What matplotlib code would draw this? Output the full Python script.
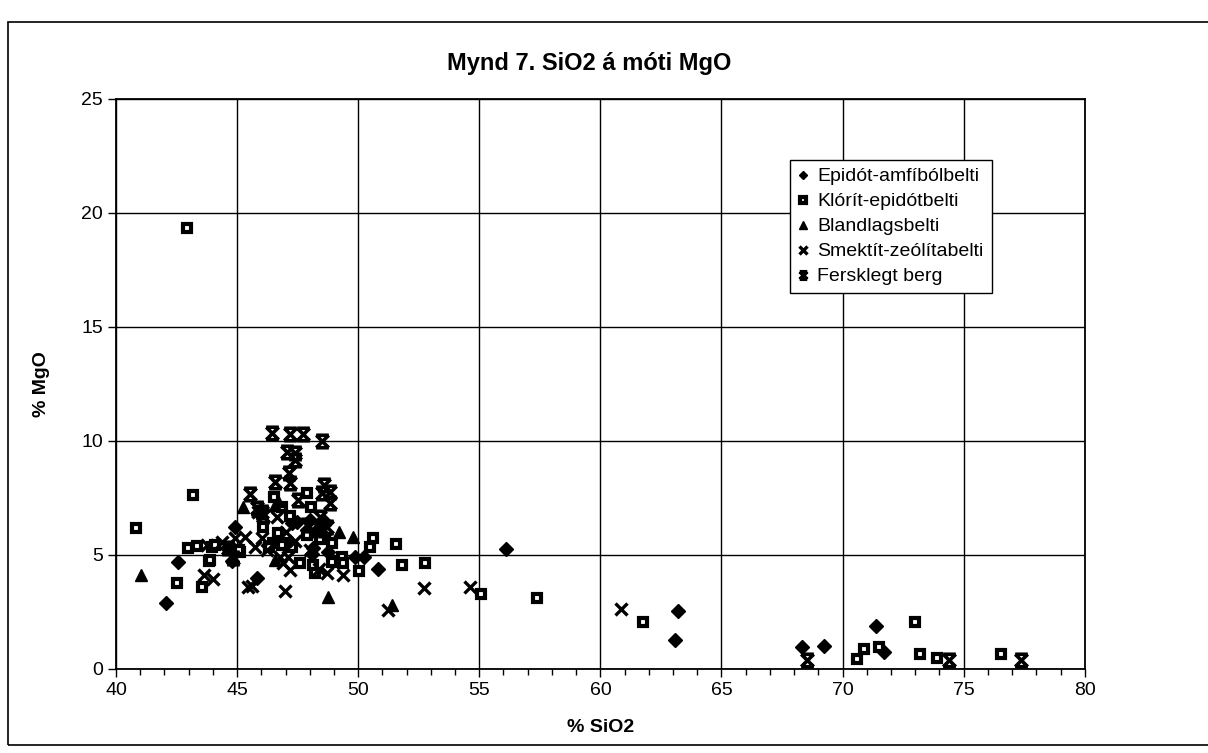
import numpy as np
import matplotlib.pyplot as plt
from matplotlib.patches import Rectangle
from matplotlib.path import Path

plt.rcParams['font.family'] = ['Liberation Sans', 'DejaVu Sans']

# Epidót-amfíbólbelti
epi_x = [42.08, 42.55, 44.92, 44.6, 44.8, 45.81, 47.26, 47.47, 48.02, 47.9, 48.09, 48.77,
         49.88, 50.22, 50.8, 56.12, 63.2, 63.1, 68.33, 69.22, 71.36, 71.71, 48.4, 48.6, 48.3, 48.15]
epi_y = [2.91, 4.71, 6.24, 5.3, 4.75, 3.98, 6.39, 6.46, 6.54, 6.1, 5.04, 5.14,
         4.93, 4.93, 4.37, 5.25, 2.56, 1.29, 0.98, 1.02, 1.89, 0.76, 6.2, 6.5, 5.9, 5.29]

# Klórít-epidótbelti
klo_x = [42.95, 43.17, 40.81, 42.52, 43.83, 43.54, 42.99, 43.33, 43.95, 44.09, 45.12, 46.54,
         46.85, 47.19, 48.04, 47.88, 46.05, 46.67, 47.08, 47.9, 48.43, 48.91, 50.5, 50.63,
         46.5, 46.85, 47.26, 47.6, 48.15, 48.22, 48.91, 49.33, 49.39, 50.05, 51.56, 51.8,
         52.77, 55.08, 57.38, 61.77, 70.6, 70.88, 71.5, 72.97, 73.18, 73.88, 76.53, 43.88,
         45.09, 46.3]
klo_y = [19.36, 7.63, 6.17, 3.76, 4.74, 3.58, 5.29, 5.39, 5.36, 5.44, 5.14, 7.53,
         7.09, 6.71, 7.09, 7.73, 6.21, 5.95, 5.51, 5.88, 5.69, 5.54, 5.34, 5.73,
         5.51, 5.44, 5.36, 4.63, 4.56, 4.19, 4.71, 4.93, 4.63, 4.31, 5.48, 4.58,
         4.63, 3.29, 3.1, 2.05, 0.44, 0.86, 0.95, 2.05, 0.66, 0.47, 0.66, 4.78,
         5.22, 5.36]

# Blandlagsbelti
bla_x = [41.03, 45.23, 46.57, 46.7, 49.22, 49.78, 46.57, 48.75, 51.39]
bla_y = [4.12, 7.09, 7.19, 7.35, 6.02, 5.78, 4.78, 3.14, 2.81]

# Smektít-zeólítabelti
sme_x = [43.64, 44.02, 43.75, 44.37, 44.92, 45.33, 46.02, 45.74, 46.23, 45.47, 45.6, 46.98,
         47.12, 46.91, 47.19, 46.78, 48.73, 49.39, 52.73, 54.63, 51.25, 60.86, 46.64, 45.88,
         47.0, 48.0, 47.4, 48.4]
sme_y = [4.12, 3.93, 5.44, 5.58, 5.75, 5.78, 5.73, 5.36, 5.22, 3.61, 3.65, 3.43,
         4.93, 4.63, 4.34, 4.93, 4.19, 4.12, 3.54, 3.61, 2.59, 2.63, 6.68, 6.9,
         6.0, 5.2, 5.6, 4.4]

# Fersklegt berg
fer_x = [46.43, 47.19, 47.71, 48.5, 47.08, 47.4, 47.4, 47.16, 47.19, 46.55, 45.54, 48.5,
         48.84, 48.57, 48.84, 47.53, 45.81, 46.02, 46.09, 47.88, 48.43, 48.71, 48.57, 44.63,
         44.84, 68.54, 74.39, 77.38]
fer_y = [10.36, 10.31, 10.31, 10.0, 9.53, 9.46, 9.17, 8.58, 8.17, 8.2, 7.68, 7.71,
         7.78, 8.07, 7.29, 7.41, 7.05, 6.9, 6.71, 6.32, 6.68, 6.24, 6.1, 5.3,
         4.86, 0.39, 0.39, 0.39]

# x with bars on top and bottom, like the scanned Excel marker
fer_marker = Path([(-1, -1), (1, 1), (-1, 1), (1, -1), (-1, 1), (1, 1), (-1, -1), (1, -1)],
                  [Path.MOVETO, Path.LINETO] * 4)

fig = plt.figure(figsize=(12.08, 7.53), dpi=100)
fig.patches.append(Rectangle((0.0066, 0.0106), 1.2, 0.9604, transform=fig.transFigure,
                             fill=False, edgecolor='black', linewidth=1.2, figure=fig))
ax = fig.add_axes([0.096, 0.1116, 0.802, 0.757])

ax.plot(epi_x, epi_y, linestyle='none', marker='D', markersize=7.5, color='black',
        label='Epidót-amfíbólbelti')
ax.plot(klo_x, klo_y, linestyle='none', marker='s', markersize=6.2, markerfacecolor='white',
        markeredgecolor='black', markeredgewidth=3.0, label='Klórít-epidótbelti')
ax.plot(bla_x, bla_y, linestyle='none', marker='^', markersize=8.5, color='black',
        label='Blandlagsbelti')
ax.plot(sme_x, sme_y, linestyle='none', marker='x', markersize=9, color='black',
        markeredgewidth=2.4, label='Smektít-zeólítabelti')
ax.plot(fer_x, fer_y, linestyle='none', marker=fer_marker, markersize=9, color='black',
        markeredgewidth=2.6, label='Fersklegt berg')

ax.set_xlim(40, 80)
ax.set_ylim(0, 25)
ax.set_xticks(np.arange(40, 81, 5))
ax.set_xticks(np.arange(40, 81, 1), minor=True)
ax.set_yticks(np.arange(0, 26, 5))
ax.grid(True, which='major', color='black', linewidth=1.0)
ax.set_axisbelow(True)
ax.tick_params(axis='both', which='major', labelsize=14, direction='out', length=6,
               width=1, colors='black')
ax.tick_params(axis='x', which='minor', direction='out', length=4, width=1)
ax.tick_params(axis='y', which='minor', left=False)
for s in ax.spines.values():
    s.set_linewidth(1.3)
    s.set_color('black')

ax.set_xlabel('% SiO2', fontsize=14, fontweight='bold', labelpad=14)
ax.set_ylabel('% MgO', fontsize=14, fontweight='bold', labelpad=22)
fig.text(0.488, 0.916, 'Mynd 7. SiO2 á móti MgO', fontsize=17, fontweight='bold',
         ha='center', va='center')

leg = ax.legend(loc='upper left', bbox_to_anchor=(0.696, 0.893), fontsize=14,
                frameon=True, fancybox=False, shadow=False, handlelength=0.5,
                handletextpad=0.5, borderpad=0.4, labelspacing=0.38, markerscale=0.6,
                borderaxespad=0)
leg.get_frame().set_edgecolor('black')
leg.get_frame().set_linewidth(1.0)
leg.get_frame().set_alpha(1)

fig.savefig('out.png', dpi=100)
